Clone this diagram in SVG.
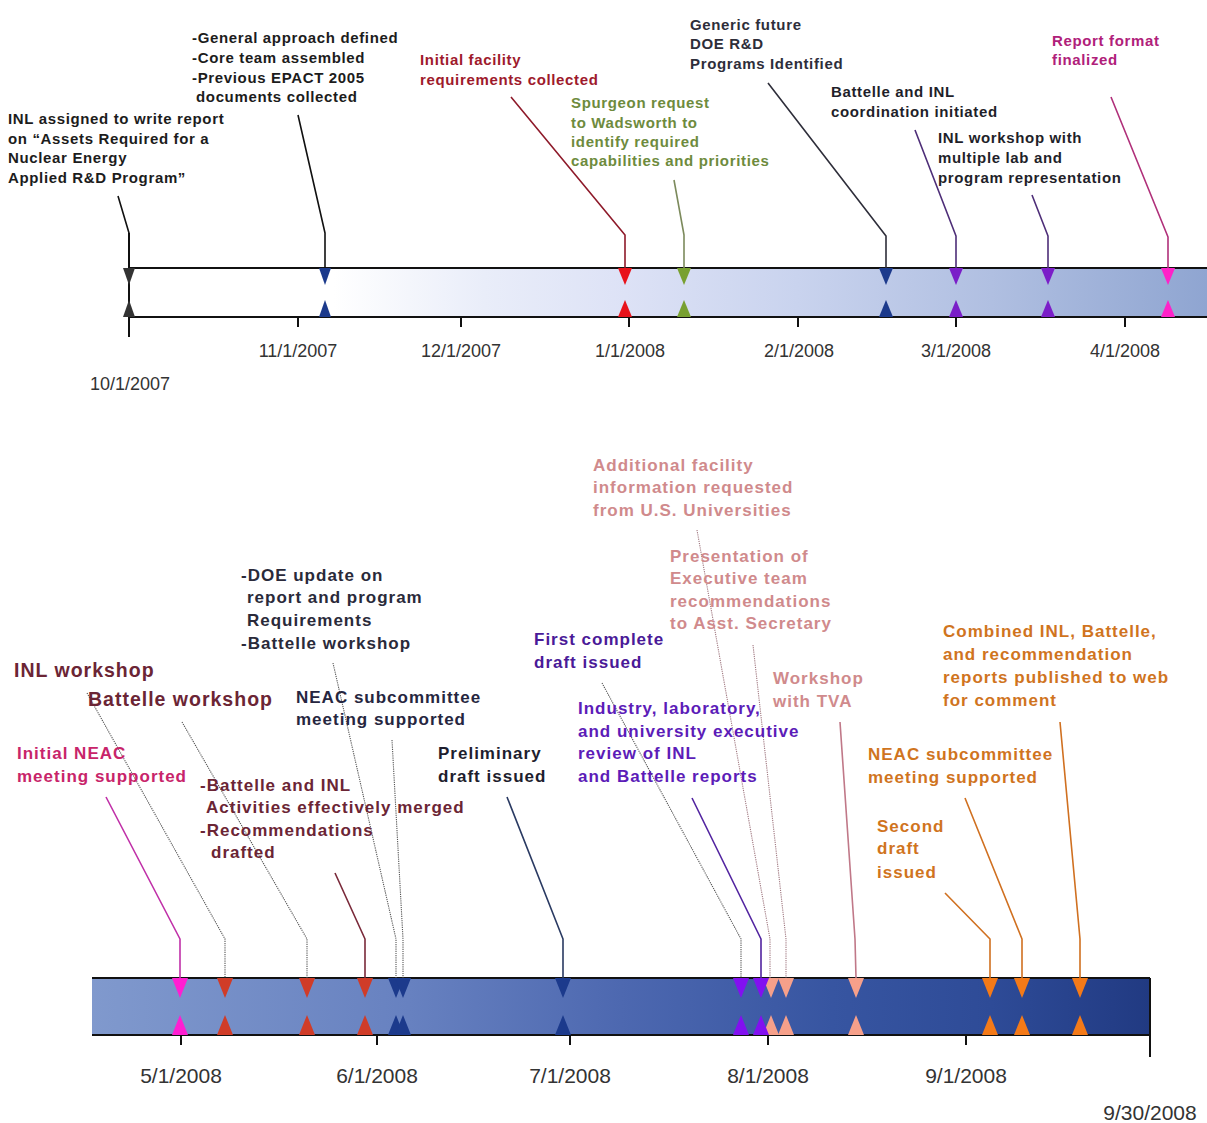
<svg xmlns="http://www.w3.org/2000/svg" width="1207" height="1123" viewBox="0 0 1207 1123">
<defs>
<linearGradient id="gTop" gradientUnits="userSpaceOnUse" x1="129" y1="0" x2="1207" y2="0">
<stop offset="0" stop-color="#ffffff"/>
<stop offset="0.19" stop-color="#ffffff"/>
<stop offset="0.33" stop-color="#e9edf9"/>
<stop offset="0.46" stop-color="#dde2f6"/>
<stop offset="0.62" stop-color="#c9d3ee"/>
<stop offset="0.8" stop-color="#b0bfe1"/>
<stop offset="1" stop-color="#8fa5d1"/>
</linearGradient>
<linearGradient id="gBot" gradientUnits="userSpaceOnUse" x1="92" y1="0" x2="1150" y2="0">
<stop offset="0" stop-color="#8099cd"/>
<stop offset="0.3" stop-color="#6781c0"/>
<stop offset="0.5" stop-color="#4d68b0"/>
<stop offset="0.7" stop-color="#3755a1"/>
<stop offset="0.85" stop-color="#2e4b97"/>
<stop offset="1" stop-color="#213a82"/>
</linearGradient>
</defs>
<style>
text{font-family:"Liberation Sans",Arial,Helvetica,sans-serif}
.t{font-size:15px;font-weight:bold;letter-spacing:0.65px}
.b{font-size:17px;font-weight:bold;letter-spacing:1px}
.bb{font-size:19.5px;font-weight:bold;letter-spacing:1px}
.d1{font-size:18px;fill:#333;text-anchor:middle}
.d2{font-size:21px;fill:#333;text-anchor:middle}
.c{fill:none;stroke-width:1.6;stroke-linejoin:round}
.dot{fill:none;stroke:#555;stroke-width:1.1;stroke-dasharray:1.2 1}
.dotp{fill:none;stroke:#a07880;stroke-width:1.1;stroke-dasharray:1.2 1}
.ax{stroke:#111;stroke-width:2;fill:none}
</style>

<g id="timeline-top">
<rect x="129" y="268" width="1078" height="49" fill="url(#gTop)"/>
<path class="ax" d="M129,268H1207M129,317H1207M129,233V337M298,317V327M461,317V327M629,317V327M798,317V327M956,317V327M1125,317V327"/>
<text class="d1" x="298" y="357">11/1/2007</text>
<text class="d1" x="461" y="357">12/1/2007</text>
<text class="d1" x="630" y="357">1/1/2008</text>
<text class="d1" x="799" y="357">2/1/2008</text>
<text class="d1" x="956" y="357">3/1/2008</text>
<text class="d1" x="1125" y="357">4/1/2008</text>
<text class="d1" x="130" y="390">10/1/2007</text>
</g>

<g id="timeline-bottom">
<rect x="92" y="978" width="1058" height="57" fill="url(#gBot)"/>
<path class="ax" d="M92,978H1150M92,1035H1150M1150,978V1057M181,1035V1045M377,1035V1045M570,1035V1045M768,1035V1045M966,1035V1045"/>
<text class="d2" x="181" y="1083">5/1/2008</text>
<text class="d2" x="377" y="1083">6/1/2008</text>
<text class="d2" x="570" y="1083">7/1/2008</text>
<text class="d2" x="768" y="1083">8/1/2008</text>
<text class="d2" x="966" y="1083">9/1/2008</text>
<text class="d2" x="1150" y="1120">9/30/2008</text>
</g>

<g id="connectors">
<polyline class="c" stroke="#111" points="118,196 129,233 129,268"/>
<polyline class="c" stroke="#111" points="298,115 325,233 325,268"/>
<polyline class="c" stroke="#8e1a2a" points="511,97 625,235 625,268"/>
<polyline class="c" stroke="#7c8a5c" points="674,180 684,235 684,268"/>
<polyline class="c" stroke="#2e2e3a" points="768,83 886,236 886,268"/>
<polyline class="c" stroke="#4e2e78" points="915,130 956,236 956,268"/>
<polyline class="c" stroke="#4e2e78" points="1032,195 1048,236 1048,268"/>
<polyline class="c" stroke="#b0307a" points="1111,97 1168,237 1168,268"/>

<polyline class="c" stroke="#c030a8" stroke-width="2" points="106,797 180,939 180,978"/>
<polyline class="dot" points="87,693 225,939 225,978"/>
<polyline class="dot" points="182,722 307,939 307,978"/>
<polyline class="c" stroke="#7a2a3a" points="335,873 365,939 365,978"/>
<polyline class="dot" points="333,663 396,939 396,978"/>
<polyline class="dot" points="392,740 403,939 403,978"/>
<polyline class="c" stroke="#2a3a62" points="507,797 563,939 563,978"/>
<polyline class="dot" points="602,683 741,939 741,978"/>
<polyline class="c" stroke="#5224a0" points="692,798 761,939 761,978"/>
<polyline class="dotp" points="697,530 770,939 770,978"/>
<polyline class="dotp" points="753,645 786,939 786,978"/>
<polyline class="c" stroke="#c07888" points="840,722 855,939 856,978"/>
<polyline class="c" stroke="#d07020" points="945,893 990,939 990,978"/>
<polyline class="c" stroke="#d07020" points="965,798 1022,939 1022,978"/>
<polyline class="c" stroke="#d07020" points="1060,722 1080,939 1080,978"/>
</g>

<g id="n-inl-assigned">
<text class="t" fill="#1c1c1c"><tspan x="8" y="124">INL assigned to write report</tspan><tspan x="8" y="144">on “Assets Required for a</tspan><tspan x="8" y="163">Nuclear Energy</tspan><tspan x="8" y="183">Applied R&amp;D Program”</tspan></text>
<polygon fill="#333" points="123,268 135,268 129,285"/><polygon fill="#333" points="123,317 135,317 129,300"/>
</g>
<g id="n-general-approach">
<text class="t" fill="#1c1c1c"><tspan x="192" y="43">-General approach defined</tspan><tspan x="192" y="63">-Core team assembled</tspan><tspan x="192" y="83">-Previous EPACT 2005</tspan><tspan x="196" y="102">documents collected</tspan></text>
<polygon fill="#1c3a8c" points="319,268 331,268 325,285"/><polygon fill="#1c3a8c" points="319,317 331,317 325,300"/>
</g>
<g id="n-initial-facility">
<text class="t" fill="#9e1a2c"><tspan x="420" y="65">Initial facility</tspan><tspan x="420" y="85">requirements collected</tspan></text>
<polygon fill="#e8121a" points="618,268 632,268 625,285"/><polygon fill="#e8121a" points="618,317 632,317 625,300"/>
</g>
<g id="n-spurgeon">
<text class="t" fill="#6e8b3d"><tspan x="571" y="108">Spurgeon request</tspan><tspan x="571" y="128">to Wadsworth to</tspan><tspan x="571" y="147">identify required</tspan><tspan x="571" y="166">capabilities and priorities</tspan></text>
<polygon fill="#78a030" points="677,268 691,268 684,285"/><polygon fill="#78a030" points="677,317 691,317 684,300"/>
</g>
<g id="n-generic-future">
<text class="t" fill="#2e2e3a"><tspan x="690" y="30">Generic future</tspan><tspan x="690" y="49">DOE R&amp;D</tspan><tspan x="690" y="69">Programs Identified</tspan></text>
<polygon fill="#1c3a8c" points="879,268 893,268 886,285"/><polygon fill="#1c3a8c" points="879,317 893,317 886,300"/>
</g>
<g id="n-battelle-coord">
<text class="t" fill="#1f1f2a"><tspan x="831" y="97">Battelle and INL</tspan><tspan x="831" y="117">coordination initiated</tspan></text>
<polygon fill="#7a1ec8" points="949,268 963,268 956,285"/><polygon fill="#7a1ec8" points="949,317 963,317 956,300"/>
</g>
<g id="n-inl-workshop-with">
<text class="t" fill="#1f1f2a"><tspan x="938" y="143">INL workshop with</tspan><tspan x="938" y="163">multiple lab and</tspan><tspan x="938" y="183">program representation</tspan></text>
<polygon fill="#7a1ec8" points="1041,268 1055,268 1048,285"/><polygon fill="#7a1ec8" points="1041,317 1055,317 1048,300"/>
</g>
<g id="n-report-format">
<text class="t" fill="#b0207a"><tspan x="1052" y="46">Report format</tspan><tspan x="1052" y="65">finalized</tspan></text>
<polygon fill="#ff22c8" points="1161,268 1175,268 1168,285"/><polygon fill="#ff22c8" points="1161,317 1175,317 1168,300"/>
</g>

<g id="n-initial-neac">
<text class="b" fill="#c8246a"><tspan x="17" y="759">Initial NEAC</tspan><tspan x="17" y="782">meeting supported</tspan></text>
<polygon fill="#ff1ed2" points="172,978 188,978 180,998"/><polygon fill="#ff1ed2" points="172,1035 188,1035 180,1015"/>
</g>
<g id="n-inl-workshop">
<text class="bb" fill="#6b2535" x="14" y="677">INL workshop</text>
<polygon fill="#d03c28" points="217,978 233,978 225,998"/><polygon fill="#d03c28" points="217,1035 233,1035 225,1015"/>
</g>
<g id="n-battelle-workshop">
<text class="bb" fill="#6b2535" x="88" y="706">Battelle workshop</text>
<polygon fill="#d03c28" points="299,978 315,978 307,998"/><polygon fill="#d03c28" points="299,1035 315,1035 307,1015"/>
</g>
<g id="n-merged">
<text class="b" fill="#6b2535"><tspan x="200" y="791">-Battelle and INL</tspan><tspan x="206" y="813">Activities effectively merged</tspan><tspan x="200" y="836">-Recommendations</tspan><tspan x="211" y="858">drafted</tspan></text>
<polygon fill="#d03c28" points="357,978 373,978 365,998"/><polygon fill="#d03c28" points="357,1035 373,1035 365,1015"/>
</g>
<g id="n-doe-update">
<text class="b" fill="#2a2a3a"><tspan x="241" y="581">-DOE update on</tspan><tspan x="247" y="603">report and program</tspan><tspan x="247" y="626">Requirements</tspan><tspan x="241" y="649">-Battelle workshop</tspan></text>
<polygon fill="#1c3a8c" points="388,978 404,978 396,998"/><polygon fill="#1c3a8c" points="388,1035 404,1035 396,1015"/>
</g>
<g id="n-neac-sub-1">
<text class="b" fill="#262640"><tspan x="296" y="703">NEAC subcommittee</tspan><tspan x="296" y="725">meeting supported</tspan></text>
<polygon fill="#1c3a8c" points="395,978 411,978 403,998"/><polygon fill="#1c3a8c" points="395,1035 411,1035 403,1015"/>
</g>
<g id="n-preliminary">
<text class="b" fill="#1e1e2e"><tspan x="438" y="759">Preliminary</tspan><tspan x="438" y="782">draft issued</tspan></text>
<polygon fill="#1c3a8c" points="555,978 571,978 563,998"/><polygon fill="#1c3a8c" points="555,1035 571,1035 563,1015"/>
</g>
<g id="n-additional-facility">
<text class="b" fill="#d08a8c"><tspan x="593" y="471">Additional facility</tspan><tspan x="593" y="493">information requested</tspan><tspan x="593" y="516">from U.S. Universities</tspan></text>
<polygon fill="#f6a08a" points="763,978 779,978 771,998"/><polygon fill="#f6a08a" points="763,1035 779,1035 771,1015"/>
</g>
<g id="n-first-complete">
<text class="b" fill="#4a1a98"><tspan x="534" y="645">First complete</tspan><tspan x="534" y="668">draft issued</tspan></text>
<polygon fill="#8210f0" points="733,978 749,978 741,998"/><polygon fill="#8210f0" points="733,1035 749,1035 741,1015"/>
</g>
<g id="n-industry-review">
<text class="b" fill="#5c1cb8"><tspan x="578" y="714">Industry, laboratory,</tspan><tspan x="578" y="737">and university executive</tspan><tspan x="578" y="759">review of INL</tspan><tspan x="578" y="782">and Battelle reports</tspan></text>
<polygon fill="#8210f0" points="753,978 769,978 761,998"/><polygon fill="#8210f0" points="753,1035 769,1035 761,1015"/>
</g>
<g id="n-presentation">
<text class="b" fill="#d08a8c"><tspan x="670" y="562">Presentation of</tspan><tspan x="670" y="584">Executive team</tspan><tspan x="670" y="607">recommendations</tspan><tspan x="670" y="629">to Asst. Secretary</tspan></text>
<polygon fill="#f6a08a" points="778,978 794,978 786,998"/><polygon fill="#f6a08a" points="778,1035 794,1035 786,1015"/>
</g>
<g id="n-tva">
<text class="b" fill="#d08a8c"><tspan x="773" y="684">Workshop</tspan><tspan x="773" y="707">with TVA</tspan></text>
<polygon fill="#f6a08a" points="848,978 864,978 856,998"/><polygon fill="#f6a08a" points="848,1035 864,1035 856,1015"/>
</g>
<g id="n-second-draft">
<text class="b" fill="#d0741e"><tspan x="877" y="832">Second</tspan><tspan x="877" y="854">draft</tspan><tspan x="877" y="878">issued</tspan></text>
<polygon fill="#f47a18" points="982,978 998,978 990,998"/><polygon fill="#f47a18" points="982,1035 998,1035 990,1015"/>
</g>
<g id="n-neac-sub-2">
<text class="b" fill="#d0741e"><tspan x="868" y="760">NEAC subcommittee</tspan><tspan x="868" y="783">meeting supported</tspan></text>
<polygon fill="#f47a18" points="1014,978 1030,978 1022,998"/><polygon fill="#f47a18" points="1014,1035 1030,1035 1022,1015"/>
</g>
<g id="n-combined">
<text class="b" fill="#d0741e"><tspan x="943" y="637">Combined INL, Battelle,</tspan><tspan x="943" y="660">and recommendation</tspan><tspan x="943" y="683">reports published to web</tspan><tspan x="943" y="706">for comment</tspan></text>
<polygon fill="#f47a18" points="1072,978 1088,978 1080,998"/><polygon fill="#f47a18" points="1072,1035 1088,1035 1080,1015"/>
</g>
</svg>
